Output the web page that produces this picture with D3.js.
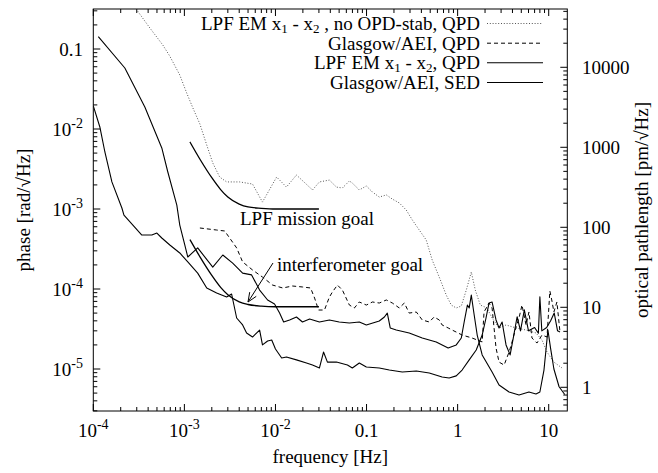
<!DOCTYPE html>
<html>
<head>
<meta charset="utf-8">
<script src="https://cdn.jsdelivr.net/npm/d3@7"></script>
<style>
  body { margin: 0; background: #fff; }
  svg, svg text, svg tspan { font-family: 'Liberation Serif', 'Times New Roman', Times, 'DejaVu Serif', serif; }
  text { font-size: 19px; fill: #000; }
</style>
</head>
<body>
<svg id="chart" width="658" height="473"></svg>
<script>
// frequency [Hz], phase [rad/sqrt(Hz)] pairs
const lpfNoStabQPD = [
  [2.5e-4,0.41],[4.18e-4,0.183],[5.8e-4,0.112],[6.9e-4,0.0818],[8.9e-4,0.0473],[1.06e-3,0.0282],
  [1.24e-3,0.0183],[1.48e-3,0.01155],[1.76e-3,6.3e-3],[2.05e-3,3.76e-3],[2.44e-3,2.51e-3],[2.91e-3,2.18e-3],
  [4.04e-3,2.18e-3],[5.6e-3,2.05e-3],[7.2e-3,1.22e-3],[1.03e-2,2.51e-3],[1.32e-2,1.88e-3],[1.7e-2,2.66e-3],
  [2.55e-2,1.73e-3],[3.04e-2,2.18e-3],[3.91e-2,2.3e-3],[4.67e-2,1.88e-3],[5.43e-2,1.83e-3],[6.48e-2,2.24e-3],
  [6.98e-2,2.11e-3],[8.33e-2,1.73e-3],[0.0995,1.94e-3],[0.116,1.63e-3],[0.138,1.41e-3],[0.165,1.5e-3],
  [0.192,1.33e-3],[0.229,1.19e-3],[0.273,9.7e-4],[0.318,7.3e-4],[0.379,5.46e-4],[0.452,4.1e-4],
  [0.526,2.3e-4],[0.628,1.41e-4],[0.75,8.4e-5],[0.851,6.3e-5],[0.966,5.79e-5],[1.097,6.13e-5],
  [1.245,9.7e-5],[1.413,1.63e-4],[1.563,9.7e-5],[1.774,6.3e-5],[2.1,5.8e-5],[2.39,4.34e-5],
  [2.85,3.26e-5],[3.4,3.55e-5],[4.38,3.26e-5],[5.64,3.07e-5],[7.25,2.82e-5],[8.44,2.3e-5],
  [9.58,1.63e-5],[11.4,1.22e-5],[14.0,1.03e-5]
];
const glasgowQPD = [
  [1.48e-3,5.79e-4],[2.26e-3,5.46e-4],[2.77e-3,5.31e-4],[3.14e-3,4.34e-4],[3.75e-3,3.26e-4],[4.36e-3,2.18e-4],
  [5.6e-3,1.73e-4],[7.2e-3,1.41e-4],[9.3e-3,1.12e-4],[1.2e-2,1.03e-4],[1.54e-2,1.09e-4],[1.98e-2,1.06e-4],
  [2.43e-2,1.03e-4],[2.69e-2,7.7e-5],[2.97e-2,5.46e-5],[3.45e-2,5.46e-5],[3.91e-2,7.94e-5],[4.22e-2,9.17e-5],
  [4.79e-2,1.12e-4],[5.43e-2,9.7e-5],[6.48e-2,6.3e-5],[7.35e-2,5.79e-5],[8.33e-2,6.88e-5],[9.95e-2,6.3e-5],
  [0.116,6.88e-5],[0.138,6.68e-5],[0.165,7.29e-5],[0.192,6.68e-5],[0.229,5.79e-5],[0.26,6.68e-5],
  [0.294,5.0e-5],[0.352,5.16e-5],[0.409,4.1e-5],[0.488,3.87e-5],[0.553,4.47e-5],[0.628,4.1e-5],
  [0.676,3.55e-5],[0.787,3.26e-5],[0.871,3.07e-5],[1.12,2.66e-5],[1.44,2.44e-5],[1.86,2.18e-5],
  [1.95,5.16e-5],[2.21,6.68e-5],[2.39,5.79e-5],[2.64,1.83e-5],[2.85,1.22e-5],[3.24,1.12e-5],
  [3.67,1.63e-5],[3.96,2.18e-5],[4.38,3.35e-5],[4.72,4.34e-5],[5.09,6.3e-5],[5.64,3.55e-5],
  [6.07,5.16e-5],[6.55,2.44e-5],[7.43,2.11e-5],[8.44,2.66e-5],[9.58,2.51e-5],[10.3,9.44e-5],
  [10.8,7.29e-5],[11.4,5.16e-5],[12.3,6.88e-5],[13.3,2.9e-5]
];
const lpfQPD = [
  [1.135e-4,0.1426],[2.22e-4,0.0579],[3.68e-4,0.0188],[5.65e-4,5.79e-3],[6.58e-4,2.9e-3],[8.26e-4,1.12e-3],
  [8.9e-4,6.3e-4],[1.01e-3,3.55e-4],[1.09e-3,2.51e-4],[1.4e-3,3.26e-4],[2.05e-3,1.88e-4],[2.64e-3,2.66e-4],
  [3.39e-3,2.11e-4],[4.36e-3,1.58e-4],[5.47e-3,1.5e-4],[6.7e-3,9.7e-5],[8.2e-3,7.29e-5],[9.77e-3,6.5e-5],
  [1.11e-2,5.0e-5],[1.23e-2,3.87e-5],[1.43e-2,4.1e-5],[1.7e-2,4.47e-5],[1.98e-2,3.87e-5],[2.37e-2,4.22e-5],
  [3.04e-2,3.87e-5],[3.91e-2,4.1e-5],[5.01e-2,3.87e-5],[6.48e-2,3.76e-5],[8.33e-2,3.87e-5],[0.0995,3.55e-5],
  [0.138,3.98e-5],[0.157,4.47e-5],[0.169,5.0e-5],[0.182,3.26e-5],[0.212,3.07e-5],[0.294,2.82e-5],
  [0.409,2.44e-5],[0.582,2.18e-5],[0.787,1.83e-5],[0.966,2.0e-5],[1.097,2.44e-5],[1.18,3.87e-5],
  [1.28,6.3e-5],[1.34,5.8e-5],[1.413,8.4e-5],[1.52,4.73e-5],[1.64,2.66e-5],[1.86,1.5e-5],
  [2.39,9.17e-6],[2.85,6.3e-6],[3.67,5.16e-6],[4.72,4.73e-6],[6.07,5.16e-6],[7.25,4.87e-6],
  [8.0,5.16e-6],[8.87,9.7e-6],[9.33,1.73e-5],[9.8,3.07e-5],[10.5,1.8e-5],[11.4,1.0e-5],[13.0,6.0e-6],[15.0,4.8e-6]
];
const glasgowSED = [
  [1.0e-4,0.0194],[1.18e-4,0.0106],[1.34e-4,5.16e-3],[1.6e-4,2.18e-3],[2.06e-4,1.03e-3],[2.17e-4,8.4e-4],
  [3.41e-4,4.73e-4],[4.39e-4,4.73e-4],[4.99e-4,5.01e-4],[5.65e-4,4.34e-4],[6.92e-4,3.55e-4],[8.9e-4,2.82e-4],
  [1.09e-3,2.18e-4],[1.4e-3,1.58e-4],[1.76e-3,1.03e-4],[2.26e-3,8.9e-5],[2.91e-3,7.94e-5],[3.3e-3,8.66e-5],
  [3.75e-3,4.34e-5],[4.36e-3,3.55e-5],[4.82e-3,2.82e-5],[5.6e-3,2.51e-5],[6.7e-3,3.07e-5],[7.2e-3,2.0e-5],
  [8.2e-3,2.24e-5],[9.1e-3,2.3e-5],[1.0e-2,1.78e-5],[1.17e-2,1.37e-5],[1.32e-2,1.41e-5],[1.7e-2,1.3e-5],
  [2.19e-2,1.19e-5],[2.55e-2,1.12e-5],[3.04e-2,1.03e-5],[3.37e-2,1.63e-5],[3.72e-2,1.22e-5],[4.67e-2,1.22e-5],
  [6.17e-2,1.12e-5],[6.98e-2,1.03e-5],[8.33e-2,1.19e-5],[0.0995,1.06e-5],[0.138,1.03e-5],[0.178,9.7e-6],
  [0.247,9.17e-6],[0.352,9.44e-6],[0.488,8.9e-6],[0.676,7.94e-6],[0.807,7.72e-6],[0.966,8.2e-6],
  [1.12,9.7e-6],[1.34,1.3e-5],[1.6,1.73e-5],[1.86,2.66e-5],[2.05,4.34e-5],[2.21,6.68e-5],
  [2.39,6.88e-5],[2.64,4.1e-5],[2.85,3.26e-5],[3.08,3.87e-5],[3.4,2.0e-5],[3.77,1.5e-5],
  [4.1,2.5e-5],[4.5,4.5e-5],[4.9,3.0e-5],[5.4,5.5e-5],[6.0,3.0e-5],[7.0,3.3e-5],[7.7,2.8e-5],
  [8.0,8.0e-5],[8.4,3.0e-5],[9.5,3.3e-5],[10.5,4.0e-5],[11.5,5.0e-5],[12.5,3.0e-5],[13.3,2.9e-5]
];
// goal curves
const lpfGoal = [
  [1.15e-3,6.9e-3],[1.5e-3,4.1e-3],[2e-3,2.46e-3],[2.5e-3,1.75e-3],[3e-3,1.41e-3],[4e-3,1.15e-3],
  [5e-3,1.06e-3],[7e-3,1.02e-3],[1e-2,1.0e-3],[1.5e-2,1.0e-3],[2e-2,1.0e-3],[3e-2,1.0e-3]
];
const ifoGoal = [
  [1.15e-3,4.15e-4],[1.5e-3,2.47e-4],[2e-3,1.48e-4],[2.5e-3,1.05e-4],[3e-3,8.5e-5],[4e-3,6.9e-5],
  [5e-3,6.4e-5],[7e-3,6.1e-5],[1e-2,6.0e-5],[1.5e-2,6.0e-5],[2e-2,6.0e-5],[3e-2,6.0e-5]
];

const xMajor = [1e-4, 1e-3, 1e-2, 0.1, 1, 10];
const xMajorLabels = [["10","-4"],["10","-3"],["10","-2"],["0.1",""],["1",""],["10",""]];
const yMajor = [0.1, 1e-2, 1e-3, 1e-4, 1e-5];
const yMajorLabels = [["0.1",""],["10","-2"],["10","-3"],["10","-4"],["10","-5"]];
const y2Major = [1, 10, 100, 1000, 10000];
const y2MajorLabels = ["1","10","100","1000","10000"];
const legendLabels = [
  ["LPF EM x","1"," - x","2"," , no OPD-stab, QPD"],
  ["Glasgow/AEI, QPD"],
  ["LPF EM x","1"," - x","2",", QPD"],
  ["Glasgow/AEI, SED"]
];
const radToPm = 169300; // 1064 nm / 2pi in pm

const margin = { left: 93.3, right: 658 - 567.3, top: 9, bottom: 473 - 411 };
const W = 658, H = 473;

const svg = d3.select("#chart");
svg.append("rect").attr("width", W).attr("height", H).attr("fill", "#fff");

const x = d3.scaleLog().domain([1e-4, 16]).range([margin.left, W - margin.right]);
const y = d3.scaleLog().domain([Math.pow(10, -5.525), Math.pow(10, -0.5)]).range([H - margin.bottom, margin.top]);
const y2 = d3.scaleLog().domain(y.domain().map(v => v * radToPm)).range(y.range());

// minor tick values for a log scale
function minors(scale) {
  const [a, b] = scale.domain();
  const out = [];
  for (let e = Math.floor(Math.log10(a)); e <= Math.ceil(Math.log10(b)); e++) {
    for (let k = 2; k <= 9; k++) {
      const v = k * Math.pow(10, e);
      if (v >= a && v <= b) out.push(v);
    }
  }
  return out;
}

const x0 = margin.left, x1 = W - margin.right, yTop = margin.top, yBot = H - margin.bottom;
const tk = svg.append("g").attr("stroke", "#000").attr("stroke-width", 1);
const maj = 7, mnr = 4;
xMajor.forEach(v => {
  tk.append("line").attr("x1", x(v)).attr("x2", x(v)).attr("y1", yBot).attr("y2", yBot - maj);
  tk.append("line").attr("x1", x(v)).attr("x2", x(v)).attr("y1", yTop).attr("y2", yTop + maj);
});
minors(x).forEach(v => {
  tk.append("line").attr("x1", x(v)).attr("x2", x(v)).attr("y1", yBot).attr("y2", yBot - mnr);
  tk.append("line").attr("x1", x(v)).attr("x2", x(v)).attr("y1", yTop).attr("y2", yTop + mnr);
});
yMajor.forEach(v => tk.append("line").attr("x1", x0).attr("x2", x0 + maj).attr("y1", y(v)).attr("y2", y(v)));
minors(y).forEach(v => tk.append("line").attr("x1", x0).attr("x2", x0 + mnr).attr("y1", y(v)).attr("y2", y(v)));
y2Major.forEach(v => tk.append("line").attr("x1", x1).attr("x2", x1 - maj).attr("y1", y2(v)).attr("y2", y2(v)));
minors(y2).forEach(v => tk.append("line").attr("x1", x1).attr("x2", x1 - mnr).attr("y1", y2(v)).attr("y2", y2(v)));

// tick labels
function supLabel(g, parts, px, py, anchor) {
  const t = g.append("text").attr("x", px).attr("y", py).attr("text-anchor", anchor);
  t.append("tspan").text(parts[0]);
  if (parts[1]) t.append("tspan").attr("dy", -8).attr("font-size", "14px").text(parts[1]);
  return t;
}
const lab = svg.append("g");
xMajor.forEach((v, i) => supLabel(lab, xMajorLabels[i], x(v), 437, "middle"));
yMajor.forEach((v, i) => supLabel(lab, yMajorLabels[i], 83, y(v) + 6.5, "end"));
y2Major.forEach((v, i) => lab.append("text").attr("x", 582).attr("y", y2(v) + 6.5).text(y2MajorLabels[i]));

// axis titles
lab.append("text").attr("x", (x0 + x1) / 2).attr("y", 463).attr("text-anchor", "middle").text("frequency [Hz]");
lab.append("text").attr("transform", `translate(30,${(yTop + yBot) / 2}) rotate(-90)`)
  .attr("text-anchor", "middle").text("phase [rad/\u221AHz]");
lab.append("text").attr("transform", `translate(648,${(yTop + yBot) / 2}) rotate(-90)`)
  .attr("text-anchor", "middle").text("optical pathlength [pm/\u221AHz]");

// curves
svg.append("clipPath").attr("id", "clip").append("rect")
  .attr("x", x0).attr("y", yTop).attr("width", x1 - x0).attr("height", yBot - yTop);
const plot = svg.append("g").attr("clip-path", "url(#clip)");
const line = d3.line().x(d => x(d[0])).y(d => y(d[1]));
const smooth = d3.line().x(d => x(d[0])).y(d => y(d[1])).curve(d3.curveMonotoneX);

plot.append("path").datum(lpfGoal).attr("d", smooth).attr("fill", "none").attr("stroke", "#000").attr("stroke-width", 1.3);
plot.append("path").datum(ifoGoal).attr("d", smooth).attr("fill", "none").attr("stroke", "#000").attr("stroke-width", 1.3);

const styles = [
  { data: lpfNoStabQPD, stroke: "#555", dash: "1,1.8", w: 1 },
  { data: glasgowQPD, stroke: "#000", dash: "4,3", w: 1 },
  { data: lpfQPD, stroke: "#000", dash: null, w: 1.1 },
  { data: glasgowSED, stroke: "#000", dash: null, w: 1.1 }
];
styles.forEach(s => {
  plot.append("path").datum(s.data).attr("d", line).attr("fill", "none")
    .attr("stroke", s.stroke).attr("stroke-width", s.w).attr("stroke-dasharray", s.dash)
    .attr("stroke-linejoin", "round");
});

// frame
svg.append("rect").attr("x", x0).attr("y", yTop).attr("width", x1 - x0).attr("height", yBot - yTop)
  .attr("fill", "none").attr("stroke", "#000").attr("stroke-width", 1);

// legend
const legBase = [30, 49.7, 69.3, 89];
legendLabels.forEach((parts, i) => {
  const t = svg.append("text").attr("x", 480).attr("y", legBase[i]).attr("text-anchor", "end");
  parts.forEach((p, j) => {
    const sp = t.append("tspan").text(p);
    if (j === 1 || j === 3) sp.attr("font-size", "13px").attr("dy", 3);
    if (j === 2 || j === 4) sp.attr("dy", -3);
  });
  const s = styles[i];
  svg.append("line").attr("x1", 487).attr("x2", 543).attr("y1", legBase[i] - 6.5).attr("y2", legBase[i] - 6.5)
    .attr("stroke", s.stroke).attr("stroke-width", s.w).attr("stroke-dasharray", s.dash);
});

// annotations
svg.append("text").attr("x", 240).attr("y", 225).text("LPF mission goal");
svg.append("text").attr("x", 277).attr("y", 271).text("interferometer goal");
const ax0 = 273, ay0 = 263, ax1 = 248, ay1 = 302;
svg.append("line").attr("x1", ax0).attr("y1", ay0).attr("x2", ax1).attr("y2", ay1).attr("stroke", "#000");
const ang = Math.atan2(ay1 - ay0, ax1 - ax0);
[0.4, -0.4].forEach(da => {
  svg.append("line").attr("x1", ax1).attr("y1", ay1)
    .attr("x2", ax1 - 10 * Math.cos(ang + da)).attr("y2", ay1 - 10 * Math.sin(ang + da)).attr("stroke", "#000");
});
</script>
</body>
</html>
